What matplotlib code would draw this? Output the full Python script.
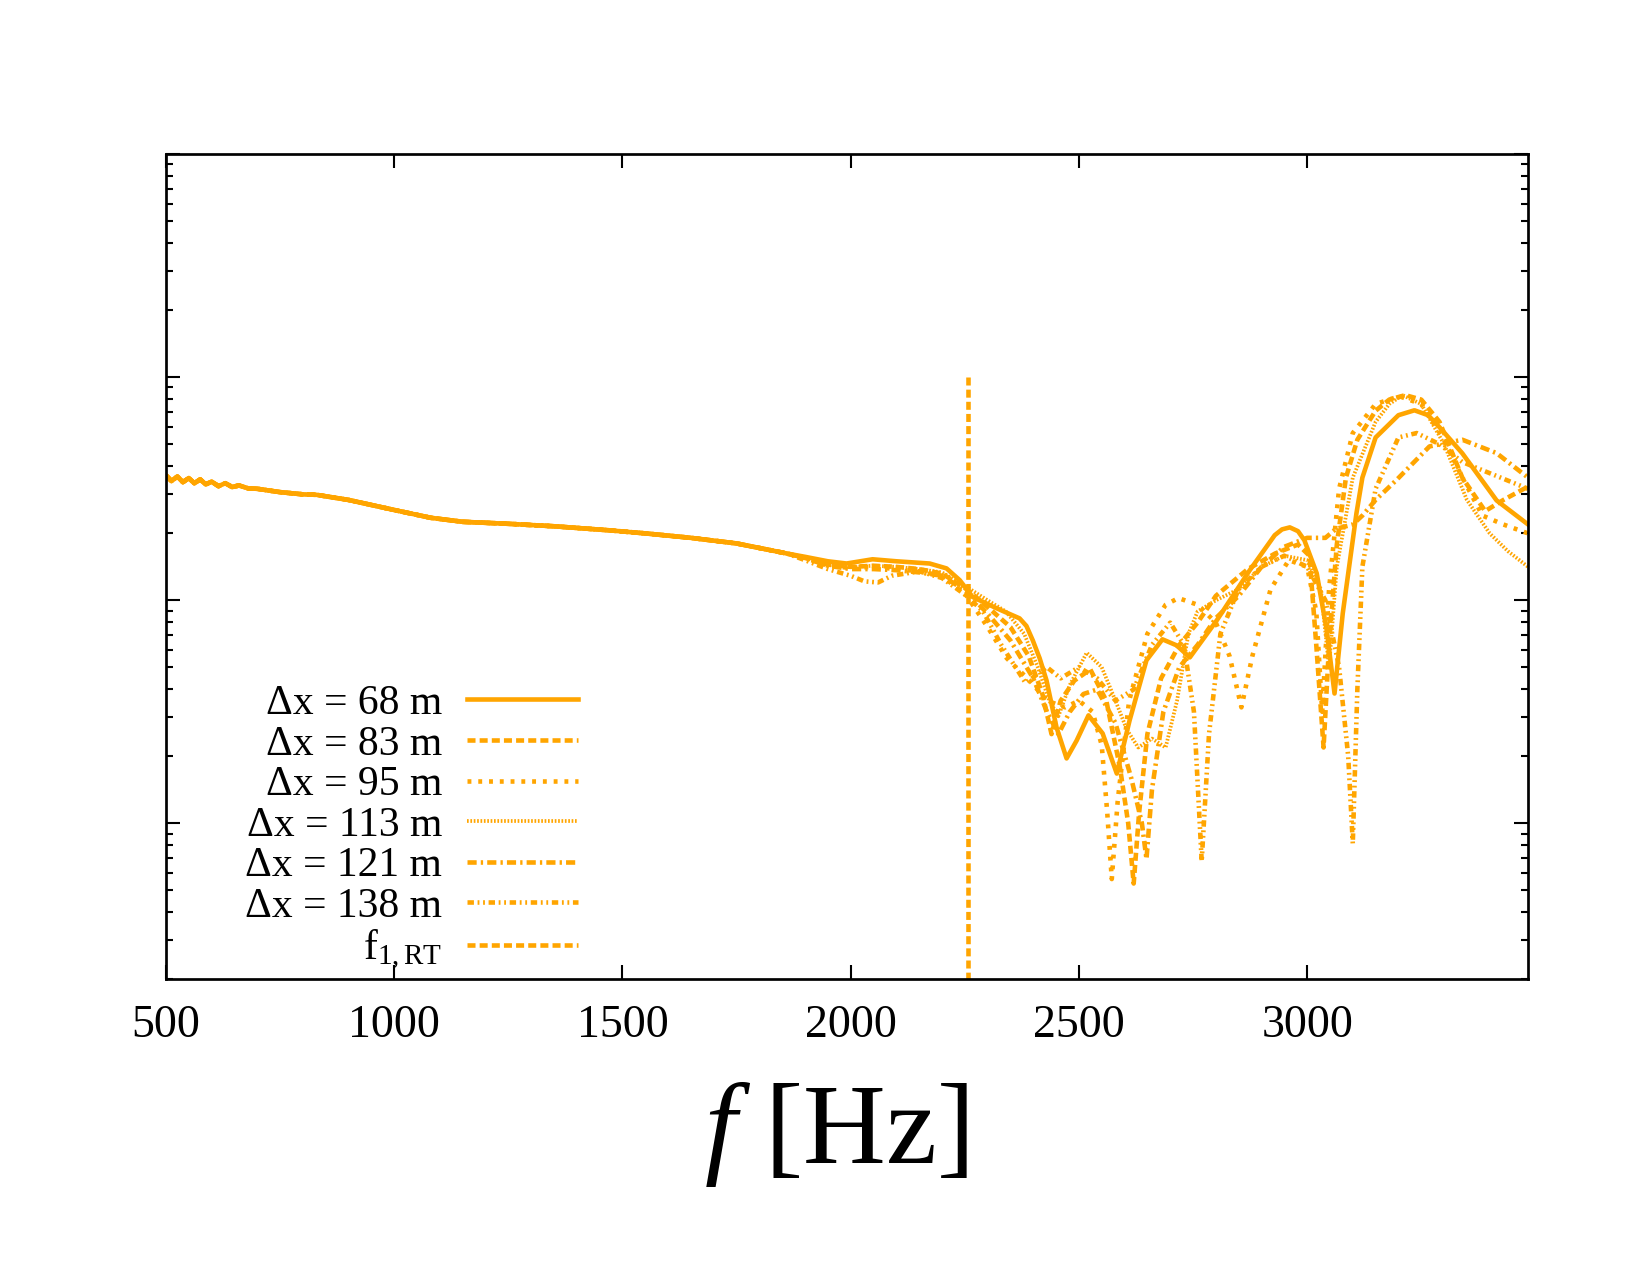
import numpy as np
import matplotlib
matplotlib.use('Agg')
import matplotlib.pyplot as plt
from matplotlib.ticker import LogLocator, NullFormatter, FixedLocator

plt.rcParams['font.family'] = ['Liberation Serif', 'DejaVu Serif']
plt.rcParams['mathtext.fontset'] = 'custom'
plt.rcParams['mathtext.rm'] = 'Liberation Serif'
plt.rcParams['mathtext.it'] = 'Liberation Serif:italic'

# shared part of every spectrum (frequency in Hz, log10 of amplitude)
f_common = [500, 512, 525, 537, 550, 562, 575, 587, 600, 615, 630, 645, 660, 680, 700,
            750, 800, 830, 900, 1000, 1080, 1150, 1250, 1350, 1470, 1550, 1650, 1750, 1860]
lg_common = [-1.44, -1.465, -1.445, -1.47, -1.452, -1.475, -1.458, -1.48, -1.468, -1.488, -1.475,
             -1.492, -1.485, -1.498, -1.50, -1.515, -1.525, -1.527, -1.55, -1.595, -1.63, -1.648,
             -1.657, -1.668, -1.686, -1.70, -1.72, -1.745, -1.79]

# individual tails
f_68 = [1900, 1950, 1991, 2048, 2100, 2173, 2210, 2239, 2267, 2320, 2370, 2385, 2399, 2414,
        2429, 2451, 2473, 2495, 2521, 2552, 2583, 2611, 2648, 2683, 2714, 2743, 2802, 2874,
        2929, 2945, 2962, 2980, 2994, 3021, 3043, 3060, 3078, 3108, 3121, 3150, 3200, 3235,
        3265, 3290, 3340, 3415, 3484]
lg_68 = [-1.805, -1.825, -1.835, -1.816, -1.825, -1.835, -1.857, -1.91, -1.985, -2.036, -2.081,
         -2.115, -2.18, -2.26, -2.359, -2.57, -2.709, -2.629, -2.516, -2.597, -2.777, -2.539,
         -2.269, -2.175, -2.202, -2.256, -2.09, -1.866, -1.708, -1.682, -1.673, -1.69, -1.731,
         -1.879, -2.135, -2.418, -2.059, -1.61, -1.45, -1.27, -1.17, -1.148, -1.17, -1.224,
         -1.341, -1.552, -1.66]

f_83 = [1900, 1950, 2000, 2050, 2100, 2150, 2200, 2254, 2300, 2350, 2390, 2420, 2440, 2460,
        2490, 2525, 2560, 2590, 2608, 2620, 2632, 2650, 2680, 2720, 2760, 2800, 2870, 2930,
        2980, 3005, 3020, 3036, 3048, 3065, 3085, 3110, 3150, 3180, 3215, 3250, 3290, 3340,
        3390, 3430, 3484]
lg_83 = [-1.81, -1.84, -1.85, -1.845, -1.85, -1.86, -1.88, -1.95, -2.03, -2.12, -2.25, -2.42,
         -2.60, -2.45, -2.36, -2.31, -2.45, -2.75, -3.0, -3.27, -2.95, -2.6, -2.35, -2.2, -2.1,
         -1.98, -1.86, -1.79, -1.75, -1.80, -2.2, -2.66, -2.2, -1.75, -1.45, -1.28, -1.15, -1.10,
         -1.08, -1.10, -1.2, -1.45, -1.6, -1.55, -1.49]

f_95 = [1900, 1950, 2000, 2050, 2100, 2150, 2200, 2254, 2300, 2342, 2392, 2430, 2470, 2500,
        2530, 2550, 2562, 2572, 2585, 2610, 2650, 2690, 2718, 2760, 2800, 2830, 2856, 2880,
        2920, 2960, 3000, 3020, 3033, 3048, 3070, 3100, 3150, 3202, 3250, 3300, 3340, 3384,
        3430, 3484]
lg_95 = [-1.81, -1.845, -1.855, -1.85, -1.86, -1.87, -1.89, -1.98, -2.12, -2.26, -2.36, -2.45,
         -2.48, -2.45, -2.5, -2.65, -2.95, -3.25, -2.9, -2.45, -2.15, -2.02, -1.99, -2.02, -2.1,
         -2.25, -2.48, -2.25, -1.95, -1.82, -1.85, -2.05, -2.5, -1.95, -1.5, -1.25, -1.12,
         -1.085, -1.12, -1.28, -1.45, -1.62, -1.66, -1.70]

f_113 = [1900, 1950, 2000, 2050, 2100, 2150, 2200, 2254, 2300, 2340, 2380, 2410, 2435, 2455,
         2480, 2517, 2550, 2580, 2605, 2630, 2660, 2690, 2715, 2740, 2760, 2800, 2850, 2900,
         2950, 3000, 3030, 3048, 3065, 3100, 3150, 3180, 3209, 3250, 3300, 3350, 3400, 3440, 3484]
lg_113 = [-1.81, -1.84, -1.85, -1.845, -1.85, -1.86, -1.875, -1.94, -2.0, -2.05, -2.15, -2.3,
          -2.45, -2.52, -2.38, -2.235, -2.3, -2.45, -2.58, -2.66, -2.62, -2.66, -2.45, -2.15,
          -2.05, -2.0, -1.95, -1.85, -1.80, -1.82, -1.95, -2.3, -1.85, -1.45, -1.2, -1.12,
          -1.08, -1.12, -1.3, -1.55, -1.70, -1.78, -1.85]

f_121 = [1900, 1950, 2000, 2050, 2100, 2150, 2200, 2254, 2300, 2350, 2400, 2430, 2455, 2480,
         2510, 2540, 2580, 2615, 2638, 2648, 2660, 2685, 2720, 2760, 2800, 2850, 2900, 2950,
         3000, 3040, 3063, 3100, 3121, 3150, 3196, 3268, 3340, 3415, 3484]
lg_121 = [-1.81, -1.845, -1.86, -1.86, -1.865, -1.875, -1.89, -1.96, -2.06, -2.18, -2.35, -2.5,
          -2.6, -2.5, -2.42, -2.4, -2.55, -2.8, -3.0, -3.16, -2.85, -2.5, -2.3, -2.2, -2.08,
          -1.98, -1.85, -1.76, -1.72, -1.72, -1.68, -1.66, -1.62, -1.55, -1.46, -1.31, -1.28,
          -1.34, -1.45]

f_138 = [1900, 1950, 2000, 2030, 2060, 2090, 2150, 2200, 2254, 2290, 2330, 2383, 2430, 2460,
         2500, 2540, 2580, 2620, 2660, 2700, 2730, 2752, 2769, 2785, 2810, 2850, 2900, 2950,
         3000, 3040, 3070, 3090, 3100, 3110, 3121, 3150, 3200, 3240, 3290, 3340, 3400, 3484]
lg_138 = [-1.82, -1.86, -1.89, -1.915, -1.92, -1.89, -1.87, -1.90, -1.98, -2.05, -2.2, -2.37,
          -2.3, -2.35, -2.3, -2.35, -2.45, -2.4, -2.2, -2.1, -2.2, -2.5, -3.17, -2.6, -2.15,
          -1.95, -1.85, -1.8, -1.85, -2.0, -2.3, -2.7, -3.09, -2.4, -1.85, -1.5, -1.27, -1.25,
          -1.30, -1.38, -1.43, -1.50]

labels = ['Δx = 68 m', 'Δx = 83 m', 'Δx = 95 m', 'Δx = 113 m', 'Δx = 121 m', 'Δx = 138 m']
tails = [(f_68, lg_68), (f_83, lg_83), (f_95, lg_95), (f_113, lg_113), (f_121, lg_121), (f_138, lg_138)]

f_rt = 2256
rt_span = [1e-1, 2e-4]

orange = '#FFA500'
lw = 2.2
styles = [
    dict(linestyle='-'),
    dict(dashes=(1.75, 0.9)),
    dict(dashes=(0.85, 1.5)),
    dict(dashes=(0.45, 0.45), linewidth=1.8),
    dict(dashes=(2.0, 0.9, 0.5, 0.9)),
    dict(dashes=(1.4, 0.8, 0.4, 0.8, 0.4, 0.8)),
]

fig = plt.figure(figsize=(11, 8.5), dpi=150)
ax = fig.add_axes([0.1006, 0.232, 0.8255, 0.647])

for (ft, lgt), lab, st in zip(tails, labels, styles):
    f = np.array(f_common + ft)
    y = 10 ** np.array(lg_common + lgt)
    kw = dict(color=orange, linewidth=lw)
    kw.update(st)
    ax.plot(f, y, label=lab, **kw)

ax.plot([f_rt, f_rt], rt_span, color=orange, linewidth=lw, dashes=(1.75, 0.9),
        label=r'f$_{\mathrm{1,RT}}$')

ax.set_yscale('log')
ax.set_xlim(500, 3484)
ax.set_ylim(2e-4, 1)

ax.xaxis.set_major_locator(FixedLocator([500, 1000, 1500, 2000, 2500, 3000]))
ax.yaxis.set_major_locator(LogLocator(base=10))
ax.yaxis.set_minor_locator(LogLocator(base=10, subs=np.arange(2, 10)))
ax.yaxis.set_major_formatter(NullFormatter())
ax.yaxis.set_minor_formatter(NullFormatter())

ax.tick_params(which='both', direction='in', top=True, right=True, width=1.0)
ax.tick_params(which='major', length=6.5)
ax.tick_params(which='minor', length=3.4)
ax.tick_params(axis='x', which='major', labelsize=22, pad=12)
for s in ax.spines.values():
    s.set_linewidth(1.3)

ax.set_xlabel(r'$f$ [Hz]', fontsize=55, labelpad=16, x=0.492)

ax.legend(loc='lower right', bbox_to_anchor=(0.3175, -0.0166), frameon=False, fontsize=20,
          markerfirst=False, handlelength=2.65, handletextpad=0.6, labelspacing=0.05,
          borderpad=0)

fig.savefig('out.png', dpi=150)
